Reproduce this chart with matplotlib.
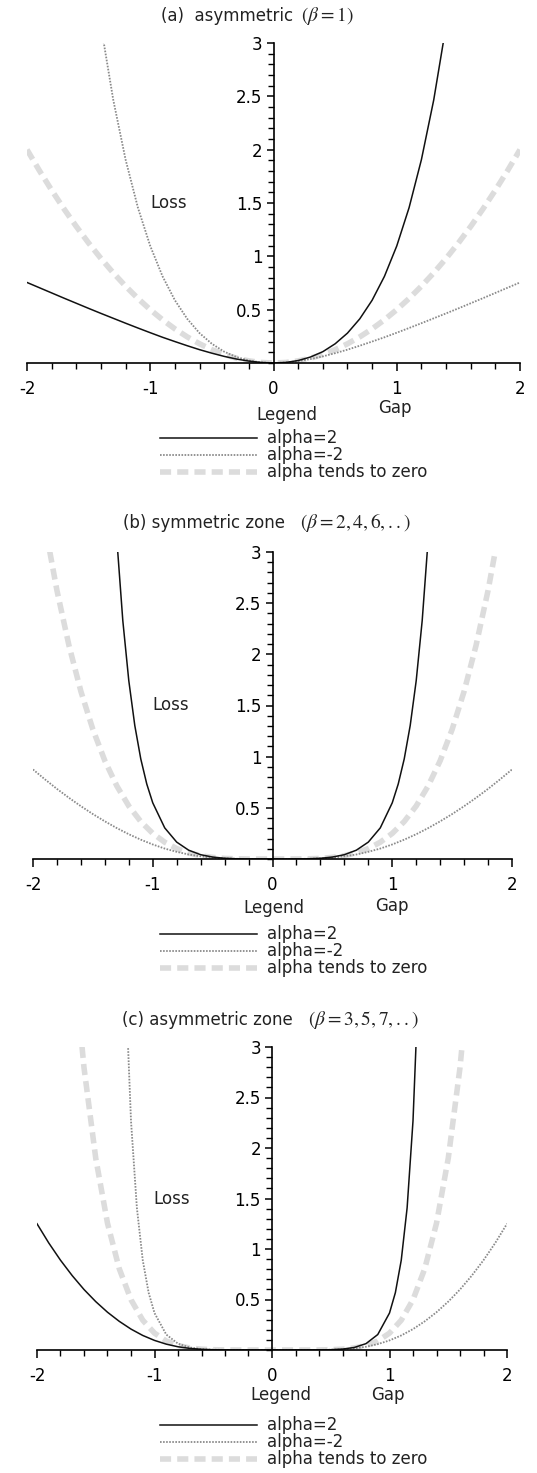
import matplotlib
matplotlib.use("Agg")
import matplotlib.pyplot as plt
from matplotlib.lines import Line2D
from matplotlib.ticker import MultipleLocator, FixedLocator

plt.rcParams['font.family'] = ['DejaVu Sans']
plt.rcParams['axes.unicode_minus'] = False
plt.rcParams['mathtext.fontset'] = 'stix'

# ---------------- data ----------------
x_grid = [-2.0, -1.9, -1.8, -1.7, -1.6, -1.5, -1.4, -1.3, -1.2, -1.1, -1.0,
          -0.9, -0.8, -0.7, -0.6, -0.5, -0.4, -0.3, -0.2, -0.1, 0.0,
          0.1, 0.2, 0.3, 0.4, 0.5, 0.6, 0.7, 0.8, 0.9, 1.0,
          1.1, 1.2, 1.3, 1.4, 1.5, 1.6, 1.7, 1.8, 1.9, 2.0]

# panel (a) beta = 1
a_alpha_pos = [0.755, 0.706, 0.657, 0.608, 0.560, 0.512, 0.465, 0.419, 0.373, 0.328, 0.284,
               0.241, 0.201, 0.162, 0.125, 0.092, 0.062, 0.037, 0.018, 0.005, 0.0,
               0.005, 0.023, 0.056, 0.106, 0.180, 0.280, 0.414, 0.588, 0.812, 1.097,
               1.456, 1.906, 2.466, 3.161, 4.021, 5.08, 6.39, 8.0, 9.97, 12.4]
a_alpha_neg = [12.4, 9.97, 8.0, 6.39, 5.08, 4.021, 3.161, 2.466, 1.906, 1.456, 1.097,
               0.812, 0.588, 0.414, 0.280, 0.180, 0.106, 0.056, 0.023, 0.005, 0.0,
               0.005, 0.018, 0.037, 0.062, 0.092, 0.125, 0.162, 0.201, 0.241, 0.284,
               0.328, 0.373, 0.419, 0.465, 0.512, 0.560, 0.608, 0.657, 0.706, 0.755]
a_alpha_zero = [2.0, 1.805, 1.62, 1.445, 1.28, 1.125, 0.98, 0.845, 0.72, 0.605, 0.5,
                0.405, 0.32, 0.245, 0.18, 0.125, 0.08, 0.045, 0.02, 0.005, 0.0,
                0.005, 0.02, 0.045, 0.08, 0.125, 0.18, 0.245, 0.32, 0.405, 0.5,
                0.605, 0.72, 0.845, 0.98, 1.125, 1.28, 1.445, 1.62, 1.805, 2.0]

# panel (b) beta = 2, 4, 6, ...
b_x_pos = [-1.3, -1.25, -1.2, -1.15, -1.1, -1.05, -1.0, -0.9, -0.8, -0.7, -0.6, -0.5,
           -0.4, -0.3, -0.2, -0.1, 0.0, 0.1, 0.2, 0.3, 0.4, 0.5, 0.6, 0.7, 0.8, 0.9,
           1.0, 1.05, 1.1, 1.15, 1.2, 1.25, 1.3]
b_alpha_pos = [3.124, 2.329, 1.742, 1.305, 0.978, 0.733, 0.549, 0.304, 0.165, 0.086, 0.042, 0.019,
               0.007, 0.002, 0.0004, 0.0, 0.0, 0.0, 0.0004, 0.002, 0.007, 0.019, 0.042, 0.086, 0.165, 0.304,
               0.549, 0.733, 0.978, 1.305, 1.742, 2.329, 3.124]
b_alpha_neg = [0.875, 0.778, 0.685, 0.598, 0.516, 0.439, 0.368, 0.302, 0.242, 0.189, 0.142,
               0.102, 0.070, 0.044, 0.026, 0.013, 0.006, 0.002, 0.0004, 0.0, 0.0,
               0.0, 0.0004, 0.002, 0.006, 0.013, 0.026, 0.044, 0.070, 0.102, 0.142,
               0.189, 0.242, 0.302, 0.368, 0.439, 0.516, 0.598, 0.685, 0.778, 0.875]
b_alpha_zero = [4.0, 3.258, 2.624, 2.088, 1.638, 1.266, 0.960, 0.714, 0.518, 0.366, 0.25,
                0.164, 0.102, 0.060, 0.032, 0.016, 0.006, 0.002, 0.0004, 0.0, 0.0,
                0.0, 0.0004, 0.002, 0.006, 0.016, 0.032, 0.060, 0.102, 0.164, 0.25,
                0.366, 0.518, 0.714, 0.960, 1.266, 1.638, 2.088, 2.624, 3.258, 4.0]

# panel (c) beta = 3, 5, 7, ...
c_x_pos = [-2.0, -1.9, -1.8, -1.7, -1.6, -1.5, -1.4, -1.3, -1.2, -1.1, -1.0,
           -0.9, -0.8, -0.7, -0.6, -0.5, -0.4, -0.3, -0.2, -0.1, 0.0,
           0.1, 0.2, 0.3, 0.4, 0.5, 0.6, 0.7, 0.8, 0.9, 1.0,
           1.05, 1.1, 1.15, 1.2, 1.25, 1.3]
c_alpha_pos = [1.25, 1.060, 0.889, 0.736, 0.599, 0.479, 0.374, 0.284, 0.207, 0.144, 0.095,
               0.058, 0.032, 0.016, 0.0068, 0.0024, 0.0007, 0.0001, 0.0, 0.0, 0.0,
               0.0, 0.0, 0.0001, 0.0007, 0.0028, 0.009, 0.025, 0.063, 0.153, 0.366,
               0.568, 0.889, 1.408, 2.269, 3.734, 6.3]
c_x_neg = [-1.3, -1.25, -1.2, -1.15, -1.1, -1.05,
           -1.0, -0.9, -0.8, -0.7, -0.6, -0.5, -0.4, -0.3, -0.2, -0.1, 0.0,
           0.1, 0.2, 0.3, 0.4, 0.5, 0.6, 0.7, 0.8, 0.9, 1.0,
           1.1, 1.2, 1.3, 1.4, 1.5, 1.6, 1.7, 1.8, 1.9, 2.0]
c_alpha_neg = [6.3, 3.734, 2.269, 1.408, 0.889, 0.568,
               0.366, 0.153, 0.063, 0.025, 0.009, 0.0028, 0.0007, 0.0001, 0.0, 0.0, 0.0,
               0.0, 0.0, 0.0001, 0.0007, 0.0024, 0.0068, 0.016, 0.032, 0.058, 0.095,
               0.144, 0.207, 0.284, 0.374, 0.479, 0.599, 0.736, 0.889, 1.060, 1.25]
c_x_zero = [-1.7, -1.6, -1.5, -1.4, -1.3, -1.2, -1.1, -1.0, -0.9, -0.8, -0.7, -0.6,
            -0.5, -0.4, -0.3, -0.2, -0.1, 0.0, 0.1, 0.2, 0.3, 0.4, 0.5, 0.6,
            0.7, 0.8, 0.9, 1.0, 1.1, 1.2, 1.3, 1.4, 1.5, 1.6, 1.7]
c_alpha_zero = [4.02, 2.796, 1.898, 1.255, 0.805, 0.498, 0.295, 0.167, 0.089, 0.044, 0.020, 0.008,
                0.003, 0.0007, 0.0001, 0.0, 0.0, 0.0, 0.0, 0.0, 0.0001, 0.0007, 0.003, 0.008,
                0.020, 0.044, 0.089, 0.167, 0.295, 0.498, 0.805, 1.255, 1.898, 2.796, 4.02]

title_text = ["(a)  asymmetric", "(b) symmetric zone", "(c) asymmetric zone"]
title_math = [r"$(\beta=1)$", r"$(\beta=2,4,6,..)$", r"$(\beta=3,5,7,..)$"]
legend_labels = ["alpha=2", "alpha=-2", "alpha tends to zero"]
x_ticks = [-2, -1, 0, 1, 2]
y_ticks = [0.5, 1, 1.5, 2, 2.5, 3]

# ---------------- styles ----------------
W, H = 537, 1473
fig = plt.figure(figsize=(W / 100, H / 100), dpi=100)
fig.patch.set_facecolor('white')

sty_pos = dict(color='#111111', lw=1.1, ls='-')
sty_neg = dict(color='#8a8a8a', lw=1.3, ls=(0, (0.9, 0.8)))
sty_zero = dict(color='#dcdcdc', lw=4.0, ls=(0, (2.0, 1.1)))

FS = 12

panels = [
    dict(box=(27, 520, 43, 363), title_y=16, title_split=(293, 301),
         data=[(x_grid, a_alpha_zero, sty_zero), (x_grid, a_alpha_neg, sty_neg), (x_grid, a_alpha_pos, sty_pos)],
         legend_xy=(287, 52), gap_xy=(395, 45)),
    dict(box=(33, 512, 552, 859), title_y=523, title_split=(285, 300),
         data=[(x_grid, b_alpha_zero, sty_zero), (x_grid, b_alpha_neg, sty_neg), (b_x_pos, b_alpha_pos, sty_pos)],
         legend_xy=(274, 49), gap_xy=(392, 47)),
    dict(box=(37, 507, 1047, 1350), title_y=1020, title_split=(293, 308),
         data=[(c_x_zero, c_alpha_zero, sty_zero), (c_x_neg, c_alpha_neg, sty_neg), (c_x_pos, c_alpha_pos, sty_pos)],
         legend_xy=(281, 45), gap_xy=(388, 45)),
]


def fx(px):
    return px / W


def fy(py):
    return 1 - py / H


for i, p in enumerate(panels):
    l, r, t, b = p['box']
    ax = fig.add_axes([fx(l), fy(b), (r - l) / W, (b - t) / H])
    ax.set_facecolor('none')
    for xs, ys, st in p['data']:
        ax.plot(xs, ys, **st)
    ax.set_xlim(-2, 2)
    ax.set_ylim(0, 3)
    for s in ['top', 'right']:
        ax.spines[s].set_visible(False)
    ax.spines['left'].set_position(('data', 0))
    ax.spines['left'].set_linewidth(1.2)
    ax.spines['bottom'].set_linewidth(1.2)
    ax.xaxis.set_major_locator(FixedLocator(x_ticks))
    ax.xaxis.set_minor_locator(MultipleLocator(0.2))
    ax.yaxis.set_major_locator(FixedLocator(y_ticks))
    ax.yaxis.set_minor_locator(MultipleLocator(0.1))
    ax.set_xticklabels([str(v) for v in x_ticks])
    ax.set_yticklabels(["0.5", "1", "1.5", "2", "2.5", "3"])
    ax.tick_params(axis='x', which='major', direction='out', length=6, width=1.1,
                   labelsize=FS, pad=6)
    ax.tick_params(axis='x', which='minor', direction='out', length=4, width=1.0)
    ax.tick_params(axis='y', which='major', direction='out', length=5, width=1.1,
                   labelsize=FS, pad=3)
    ax.tick_params(axis='y', which='minor', direction='out', length=4, width=1.0)
    ax.text(-0.85, 1.5, "Loss", ha='center', va='center', fontsize=FS, color='#222222')

    # title: sans part + serif math part
    s1, s2 = p['title_split']
    ty = p['title_y']
    fig.text(fx(s1), fy(ty), title_text[i], ha='right', va='center', fontsize=FS, color='#222222')
    fig.text(fx(s2), fy(ty), title_math[i], ha='left', va='center', fontsize=14, color='#222222')
    # Legend / Gap labels
    lx, ldy = p['legend_xy']
    fig.text(fx(lx), fy(b + ldy), "Legend", ha='center', va='center', fontsize=FS, color='#222222')
    gx, gdy = p['gap_xy']
    fig.text(fx(gx), fy(b + gdy), "Gap", ha='center', va='center', fontsize=FS, color='#222222')
    # legend entries
    rows = [b + 75, b + 92, b + 109]
    for st, lab, ry in zip([sty_pos, sty_neg, sty_zero], legend_labels, rows):
        fig.add_artist(Line2D([fx(160), fx(257)], [fy(ry), fy(ry)], transform=fig.transFigure, **st))
        fig.text(fx(267), fy(ry), lab, ha='left', va='center', fontsize=FS, color='#222222')

fig.savefig("out.png", dpi=100, facecolor='white')
